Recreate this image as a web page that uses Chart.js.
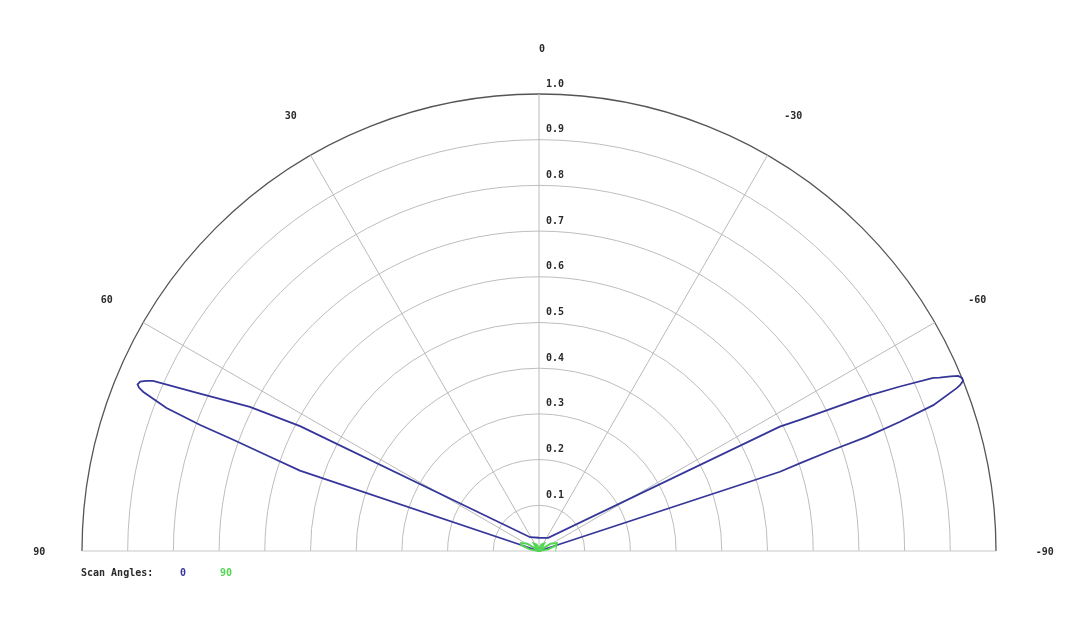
<!DOCTYPE html>
<html>
<head>
<meta charset="utf-8">
<title>Scan pattern</title>
<script src="https://cdn.jsdelivr.net/npm/chart.js@4"></script>
<style>
    body { margin: 0; background: #fff; }
    #wrap { width: 1080px; height: 637px; position: relative; }
</style>
</head>
<body>
<div id="wrap"><canvas id="polar-chart"></canvas></div>
<script>
// polar beam pattern, angles in degrees (positive = left of boresight)
const ringValues = [0.1, 0.2, 0.3, 0.4, 0.5, 0.6, 0.7, 0.8, 0.9, 1.0];
const ringLabels = ["0.1", "0.2", "0.3", "0.4", "0.5", "0.6", "0.7", "0.8", "0.9", "1.0"];
const spokeAngles = [60, 30, 0, -30, -60];
const angleTicks = [90, 60, 30, 0, -30, -60, -90];
const angleLabels = ["90", "60", "30", "0", "-30", "-60", "-90"];

const scanNames = ["0", "90"];

// scan angle 0
const scan0Angles = [90, 74, 71.4, 70.7, 70.0, 69.6, 69.0, 68.1, 67.8, 67.47, 67.0, 66.6, 66.2, 65.1, 63.5, 62.4,
    33, 0, -35, -62.7, -63.3, -64.7, -65.5, -66.3, -66.6, -67.0, -67.33, -67.75, -68.15, -68.5, -68.7, -69.7, -70.3, -70.8,
    -71.0, -71.4, -71.8, -74, -90];
const scan0Values = [0, 0, 0.552, 0.624, 0.712, 0.791, 0.873, 0.933, 0.945, 0.951, 0.948, 0.937, 0.923, 0.818, 0.707, 0.59,
    0.036, 0.029, 0.035, 0.593, 0.639, 0.793, 0.868, 0.942, 0.955, 0.978, 0.994, 1.0, 1.0, 0.99, 0.981, 0.92, 0.839, 0.759,
    0.682, 0.606, 0.555, 0, 0];

// scan angle 90
const scan90Angles = [90, 80, 72, 66, 58, 50, 35, 20, 0, -20, -35, -50, -58, -66, -72, -80, -90];
const scan90Values = [0, 0.02, 0.04, 0.043, 0.03, 0.005, 0.02, 0.015, 0.005, 0.015, 0.02, 0.005, 0.03, 0.043, 0.04, 0.02, 0];

const scanColors = ["#36369a", "#52d652"];

// centre of the half circle sits at pixel (539, 551), radius 457 px
const R_PX = 457;
const CX = 539, CY = 551;

function toXY(angles, values) {
    return angles.map((a, i) => {
        const t = a * Math.PI / 180;
        return { x: -values[i] * Math.sin(t), y: values[i] * Math.cos(t) };
    });
}

const gridPlugin = {
    id: "polarGrid",
    beforeDatasetsDraw(chart) {
        const ctx = chart.ctx;
        const xs = chart.scales.x, ys = chart.scales.y;
        const cx = xs.getPixelForValue(0), cy = ys.getPixelForValue(0);
        ctx.save();
        // rings
        ringValues.forEach((v, i) => {
            const rr = xs.getPixelForValue(v) - cx;
            ctx.beginPath();
            ctx.arc(cx, cy, rr, Math.PI, 2 * Math.PI);
            const outer = i === ringValues.length - 1;
            ctx.strokeStyle = outer ? "#555555" : "#bdbdbd";
            ctx.lineWidth = outer ? 1.3 : 1;
            ctx.stroke();
        });
        // spokes
        const rMax = ringValues[ringValues.length - 1];
        ctx.strokeStyle = "#bababa";
        ctx.lineWidth = 1;
        spokeAngles.forEach((a) => {
            const t = a * Math.PI / 180;
            ctx.beginPath();
            ctx.moveTo(cx, cy);
            ctx.lineTo(xs.getPixelForValue(-rMax * Math.sin(t)), ys.getPixelForValue(rMax * Math.cos(t)));
            ctx.stroke();
        });
        // base line
        ctx.strokeStyle = "#c8c8c8";
        ctx.beginPath();
        ctx.moveTo(xs.getPixelForValue(-rMax), cy);
        ctx.lineTo(xs.getPixelForValue(rMax), cy);
        ctx.stroke();
        ctx.restore();
    },
    afterDraw(chart) {
        const ctx = chart.ctx;
        const xs = chart.scales.x, ys = chart.scales.y;
        const cx = xs.getPixelForValue(0);
        ctx.save();
        ctx.font = "bold 10px 'DejaVu Sans Mono', monospace";
        ctx.fillStyle = "#2a2a2a";
        ctx.textBaseline = "middle";
        // ring values along the 0 deg spoke
        ctx.textAlign = "left";
        ringValues.forEach((v, i) => {
            ctx.fillText(ringLabels[i], cx + 7, ys.getPixelForValue(v) - 10);
        });
        // angle labels
        ctx.textAlign = "center";
        angleTicks.forEach((a, i) => {
            const t = a * Math.PI / 180;
            const r = 1.1;
            ctx.fillText(angleLabels[i], xs.getPixelForValue(-r * Math.sin(t)) + 3, ys.getPixelForValue(r * Math.cos(t)) + 1);
        });
        // legend
        const ly = ys.getPixelForValue(0) + 22;
        ctx.textAlign = "left";
        ctx.fillStyle = "#2a2a2a";
        ctx.fillText("Scan Angles:", 81, ly);
        ctx.fillStyle = scanColors[0];
        ctx.fillText(scanNames[0], 180, ly);
        ctx.fillStyle = scanColors[1];
        ctx.fillText(scanNames[1], 220, ly);
        ctx.restore();
    }
};

const chart = new Chart(document.getElementById("polar-chart"), {
    type: "scatter",
    data: {
        datasets: [
            {
                label: scanNames[1],
                data: toXY(scan90Angles, scan90Values),
                showLine: true,
                borderColor: scanColors[1],
                borderWidth: 1.8,
                pointRadius: 0,
                tension: 0,
            },
            {
                label: scanNames[0],
                data: toXY(scan0Angles, scan0Values),
                showLine: true,
                borderColor: scanColors[0],
                borderWidth: 1.8,
                pointRadius: 0,
                tension: 0,
            },
        ],
    },
    options: {
        responsive: true,
        maintainAspectRatio: false,
        animation: false,
        layout: { padding: 0 },
        plugins: {
            legend: { display: false },
            tooltip: { enabled: false },
        },
        scales: {
            x: { display: false, min: -CX / R_PX, max: (1080 - CX) / R_PX },
            y: { display: false, min: -(637 - CY) / R_PX, max: CY / R_PX },
        },
    },
    plugins: [gridPlugin],
});
</script>
</body>
</html>
